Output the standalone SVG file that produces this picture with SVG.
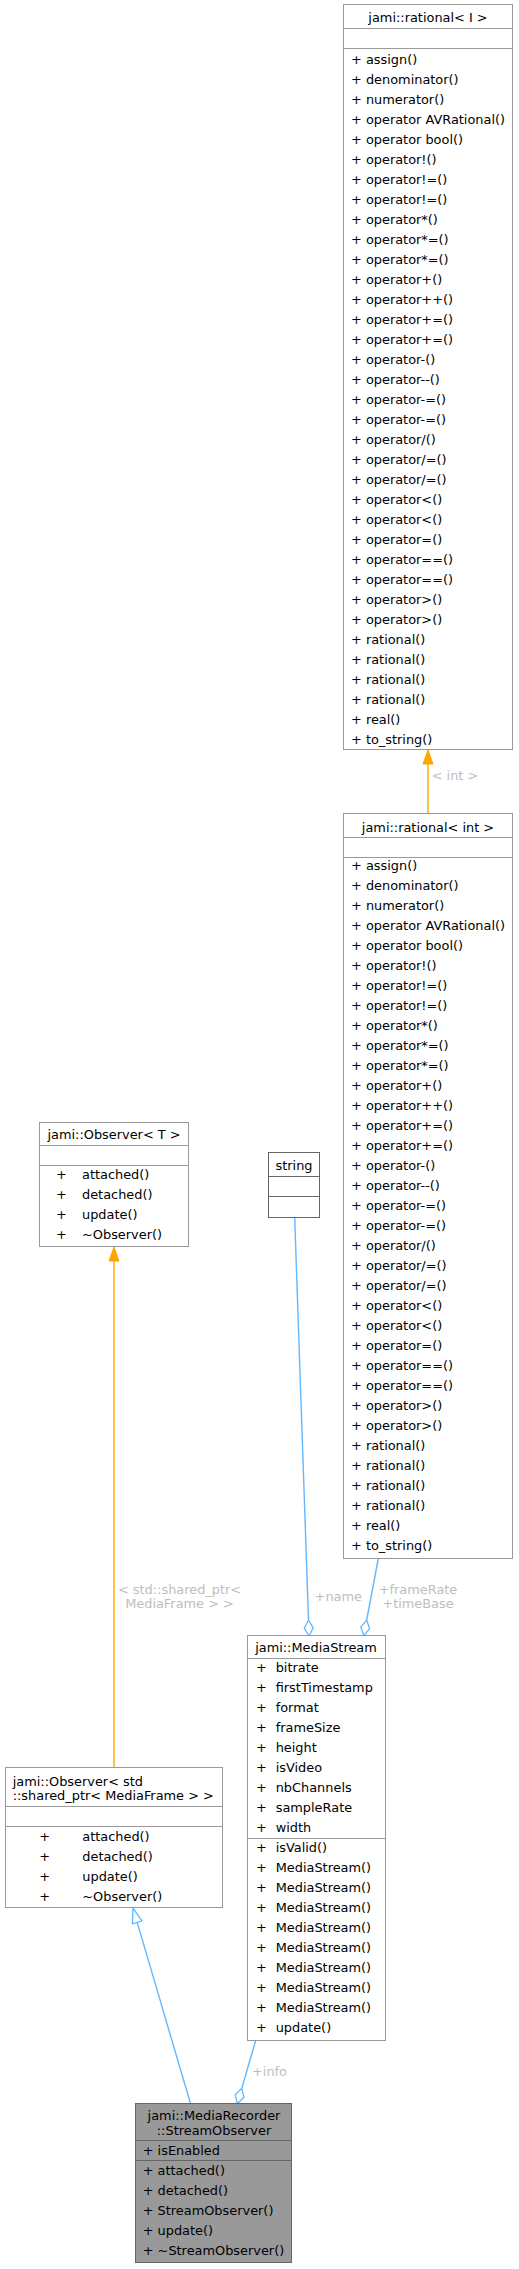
<svg xmlns="http://www.w3.org/2000/svg" width="519" height="2269" viewBox="0 0 519 2269">
<style>
text{font-family:"DejaVu Sans","Liberation Sans",sans-serif;font-size:12.9px;fill:#000}
.c{text-anchor:middle}
.lbl{fill:#bebebe;text-anchor:middle}
.box{fill:#fff;stroke:#999;stroke-width:1}
.dark{stroke:#666}
.sep{stroke:#999;stroke-width:1}
.sepd{stroke:#666;stroke-width:1}
.focus{fill:#999;stroke:#666;stroke-width:1}
.inh{stroke:#ffa500;stroke-width:1.4;fill:none}
.blue{stroke:#63b8ff;stroke-width:1.4;fill:none}
</style>
<defs>
<marker id="tri" viewBox="0 0 14 10" refX="0" refY="5" markerWidth="14" markerHeight="10" markerUnits="userSpaceOnUse" orient="auto" overflow="visible"><path d="M0,0 L14,5 L0,10 z" fill="#ffa500" stroke="#ffa500" stroke-width="1"/></marker>
<marker id="otri" viewBox="0 0 15 10" refX="0" refY="5" markerWidth="15" markerHeight="10" markerUnits="userSpaceOnUse" orient="auto" overflow="visible"><path d="M0,0 L15,5 L0,10 z" fill="#fff" stroke="#63b8ff" stroke-width="1.3"/></marker>
<marker id="dia" viewBox="0 0 16 10" refX="0" refY="5" markerWidth="16" markerHeight="10" markerUnits="userSpaceOnUse" orient="auto" overflow="visible"><path d="M0,5 L8,0.5 L16,5 L8,9.5 z" fill="#fff" stroke="#63b8ff" stroke-width="1.3"/></marker>
</defs>

<g id="connectors">
<path class="inh" d="M428,813 L428,764" marker-end="url(#tri)"/>
<text class="lbl" x="455" y="780">&lt; int &gt;</text>
<path class="inh" d="M114,1767.5 L114,1261" marker-end="url(#tri)"/>
<text class="lbl" x="179.5" y="1593.5">&lt; std::shared_ptr&lt;</text>
<text class="lbl" x="179.5" y="1608">MediaFrame &gt; &gt;</text>
<path class="blue" d="M190.5,2103.5 L137.2,1922.4" marker-end="url(#otri)"/>
<path class="blue" d="M294.7,1218 L308.5,1620" marker-end="url(#dia)"/>
<text class="lbl" x="338.3" y="1601">+name</text>
<path class="blue" d="M378.3,1558.5 L366.7,1620" marker-end="url(#dia)"/>
<text class="lbl" x="418" y="1593.5">+frameRate</text>
<text class="lbl" x="418" y="1608">+timeBase</text>
<path class="blue" d="M255.7,2040.5 L241.8,2088.3" marker-end="url(#dia)"/>
<text class="lbl" x="269.5" y="2075.5">+info</text>
</g>

<g id="rational_I">
<rect class="box" x="343.5" y="4.5" width="169" height="745"/>
<line class="sep" x1="343.5" y1="28.5" x2="512.5" y2="28.5"/>
<line class="sep" x1="343.5" y1="48.5" x2="512.5" y2="48.5"/>
<text class="c" x="428" y="22">jami::rational&lt; I &gt;</text>
<text x="351" y="63.5"><tspan x="351">+ assign()</tspan><tspan x="351" dy="20">+ denominator()</tspan><tspan x="351" dy="20">+ numerator()</tspan><tspan x="351" dy="20">+ operator AVRational()</tspan><tspan x="351" dy="20">+ operator bool()</tspan><tspan x="351" dy="20">+ operator!()</tspan><tspan x="351" dy="20">+ operator!=()</tspan><tspan x="351" dy="20">+ operator!=()</tspan><tspan x="351" dy="20">+ operator*()</tspan><tspan x="351" dy="20">+ operator*=()</tspan><tspan x="351" dy="20">+ operator*=()</tspan><tspan x="351" dy="20">+ operator+()</tspan><tspan x="351" dy="20">+ operator++()</tspan><tspan x="351" dy="20">+ operator+=()</tspan><tspan x="351" dy="20">+ operator+=()</tspan><tspan x="351" dy="20">+ operator-()</tspan><tspan x="351" dy="20">+ operator--()</tspan><tspan x="351" dy="20">+ operator-=()</tspan><tspan x="351" dy="20">+ operator-=()</tspan><tspan x="351" dy="20">+ operator/()</tspan><tspan x="351" dy="20">+ operator/=()</tspan><tspan x="351" dy="20">+ operator/=()</tspan><tspan x="351" dy="20">+ operator&lt;()</tspan><tspan x="351" dy="20">+ operator&lt;()</tspan><tspan x="351" dy="20">+ operator=()</tspan><tspan x="351" dy="20">+ operator==()</tspan><tspan x="351" dy="20">+ operator==()</tspan><tspan x="351" dy="20">+ operator&gt;()</tspan><tspan x="351" dy="20">+ operator&gt;()</tspan><tspan x="351" dy="20">+ rational()</tspan><tspan x="351" dy="20">+ rational()</tspan><tspan x="351" dy="20">+ rational()</tspan><tspan x="351" dy="20">+ rational()</tspan><tspan x="351" dy="20">+ real()</tspan><tspan x="351" dy="20">+ to_string()</tspan></text>
</g>

<g id="rational_int">
<rect class="box" x="343.5" y="813.5" width="169" height="745"/>
<line class="sep" x1="343.5" y1="837.5" x2="512.5" y2="837.5"/>
<line class="sep" x1="343.5" y1="857.5" x2="512.5" y2="857.5"/>
<text class="c" x="428" y="831.5">jami::rational&lt; int &gt;</text>
<text x="351" y="869.5"><tspan x="351">+ assign()</tspan><tspan x="351" dy="20">+ denominator()</tspan><tspan x="351" dy="20">+ numerator()</tspan><tspan x="351" dy="20">+ operator AVRational()</tspan><tspan x="351" dy="20">+ operator bool()</tspan><tspan x="351" dy="20">+ operator!()</tspan><tspan x="351" dy="20">+ operator!=()</tspan><tspan x="351" dy="20">+ operator!=()</tspan><tspan x="351" dy="20">+ operator*()</tspan><tspan x="351" dy="20">+ operator*=()</tspan><tspan x="351" dy="20">+ operator*=()</tspan><tspan x="351" dy="20">+ operator+()</tspan><tspan x="351" dy="20">+ operator++()</tspan><tspan x="351" dy="20">+ operator+=()</tspan><tspan x="351" dy="20">+ operator+=()</tspan><tspan x="351" dy="20">+ operator-()</tspan><tspan x="351" dy="20">+ operator--()</tspan><tspan x="351" dy="20">+ operator-=()</tspan><tspan x="351" dy="20">+ operator-=()</tspan><tspan x="351" dy="20">+ operator/()</tspan><tspan x="351" dy="20">+ operator/=()</tspan><tspan x="351" dy="20">+ operator/=()</tspan><tspan x="351" dy="20">+ operator&lt;()</tspan><tspan x="351" dy="20">+ operator&lt;()</tspan><tspan x="351" dy="20">+ operator=()</tspan><tspan x="351" dy="20">+ operator==()</tspan><tspan x="351" dy="20">+ operator==()</tspan><tspan x="351" dy="20">+ operator&gt;()</tspan><tspan x="351" dy="20">+ operator&gt;()</tspan><tspan x="351" dy="20">+ rational()</tspan><tspan x="351" dy="20">+ rational()</tspan><tspan x="351" dy="20">+ rational()</tspan><tspan x="351" dy="20">+ rational()</tspan><tspan x="351" dy="20">+ real()</tspan><tspan x="351" dy="20">+ to_string()</tspan></text>
</g>

<g id="observer_T">
<rect class="box" x="39.5" y="1122.5" width="149" height="124"/>
<line class="sep" x1="39.5" y1="1145.5" x2="188.5" y2="1145.5"/>
<line class="sep" x1="39.5" y1="1165.5" x2="188.5" y2="1165.5"/>
<text class="c" x="114" y="1138.5">jami::Observer&lt; T &gt;</text>
<text x="56" y="1179"><tspan x="56">+</tspan><tspan x="56" dy="20">+</tspan><tspan x="56" dy="20">+</tspan><tspan x="56" dy="20">+</tspan></text>
<text x="82" y="1179"><tspan x="82">attached()</tspan><tspan x="82" dy="20">detached()</tspan><tspan x="82" dy="20">update()</tspan><tspan x="82" dy="20">~Observer()</tspan></text>
</g>

<g id="string">
<rect class="box dark" x="268.5" y="1152.5" width="51" height="65"/>
<line class="sepd" x1="268.5" y1="1176.5" x2="319.5" y2="1176.5"/>
<line class="sepd" x1="268.5" y1="1196.5" x2="319.5" y2="1196.5"/>
<text class="c" x="294" y="1170">string</text>
</g>

<g id="media_stream">
<rect class="box" x="247.5" y="1635.5" width="138" height="405"/>
<line class="sep" x1="247.5" y1="1658.5" x2="385.5" y2="1658.5"/>
<line class="sep" x1="247.5" y1="1838.5" x2="385.5" y2="1838.5"/>
<text class="c" x="316" y="1652">jami::MediaStream</text>
<text x="256" y="1672"><tspan x="256">+</tspan><tspan x="256" dy="20">+</tspan><tspan x="256" dy="20">+</tspan><tspan x="256" dy="20">+</tspan><tspan x="256" dy="20">+</tspan><tspan x="256" dy="20">+</tspan><tspan x="256" dy="20">+</tspan><tspan x="256" dy="20">+</tspan><tspan x="256" dy="20">+</tspan></text>
<text x="275.7" y="1672"><tspan x="275.7">bitrate</tspan><tspan x="275.7" dy="20">firstTimestamp</tspan><tspan x="275.7" dy="20">format</tspan><tspan x="275.7" dy="20">frameSize</tspan><tspan x="275.7" dy="20">height</tspan><tspan x="275.7" dy="20">isVideo</tspan><tspan x="275.7" dy="20">nbChannels</tspan><tspan x="275.7" dy="20">sampleRate</tspan><tspan x="275.7" dy="20">width</tspan></text>
<text x="256" y="1852"><tspan x="256">+</tspan><tspan x="256" dy="20">+</tspan><tspan x="256" dy="20">+</tspan><tspan x="256" dy="20">+</tspan><tspan x="256" dy="20">+</tspan><tspan x="256" dy="20">+</tspan><tspan x="256" dy="20">+</tspan><tspan x="256" dy="20">+</tspan><tspan x="256" dy="20">+</tspan><tspan x="256" dy="20">+</tspan></text>
<text x="275.7" y="1852"><tspan x="275.7">isValid()</tspan><tspan x="275.7" dy="20">MediaStream()</tspan><tspan x="275.7" dy="20">MediaStream()</tspan><tspan x="275.7" dy="20">MediaStream()</tspan><tspan x="275.7" dy="20">MediaStream()</tspan><tspan x="275.7" dy="20">MediaStream()</tspan><tspan x="275.7" dy="20">MediaStream()</tspan><tspan x="275.7" dy="20">MediaStream()</tspan><tspan x="275.7" dy="20">MediaStream()</tspan><tspan x="275.7" dy="20">update()</tspan></text>
</g>

<g id="observer_shared_ptr">
<rect class="box" x="5.5" y="1767.5" width="217" height="140"/>
<line class="sep" x1="5.5" y1="1806.5" x2="222.5" y2="1806.5"/>
<line class="sep" x1="5.5" y1="1826.5" x2="222.5" y2="1826.5"/>
<text x="12.7" y="1785.5">jami::Observer&lt; std</text>
<text x="12.7" y="1799.5">::shared_ptr&lt; MediaFrame &gt; &gt;</text>
<text x="39.3" y="1841"><tspan x="39.3">+</tspan><tspan x="39.3" dy="20">+</tspan><tspan x="39.3" dy="20">+</tspan><tspan x="39.3" dy="20">+</tspan></text>
<text x="82.3" y="1841"><tspan x="82.3">attached()</tspan><tspan x="82.3" dy="20">detached()</tspan><tspan x="82.3" dy="20">update()</tspan><tspan x="82.3" dy="20">~Observer()</tspan></text>
</g>

<g id="stream_observer">
<rect class="focus" x="135.5" y="2103.5" width="156" height="159"/>
<line class="sepd" x1="135.5" y1="2140.5" x2="291.5" y2="2140.5"/>
<line class="sepd" x1="135.5" y1="2160.5" x2="291.5" y2="2160.5"/>
<text class="c" x="214" y="2119.5">jami::MediaRecorder</text>
<text class="c" x="214" y="2134.5">::StreamObserver</text>
<text x="142.7" y="2155">+ isEnabled</text>
<text x="142.7" y="2175"><tspan x="142.7">+ attached()</tspan><tspan x="142.7" dy="20">+ detached()</tspan><tspan x="142.7" dy="20">+ StreamObserver()</tspan><tspan x="142.7" dy="20">+ update()</tspan><tspan x="142.7" dy="20">+ ~StreamObserver()</tspan></text>
</g>
</svg>
